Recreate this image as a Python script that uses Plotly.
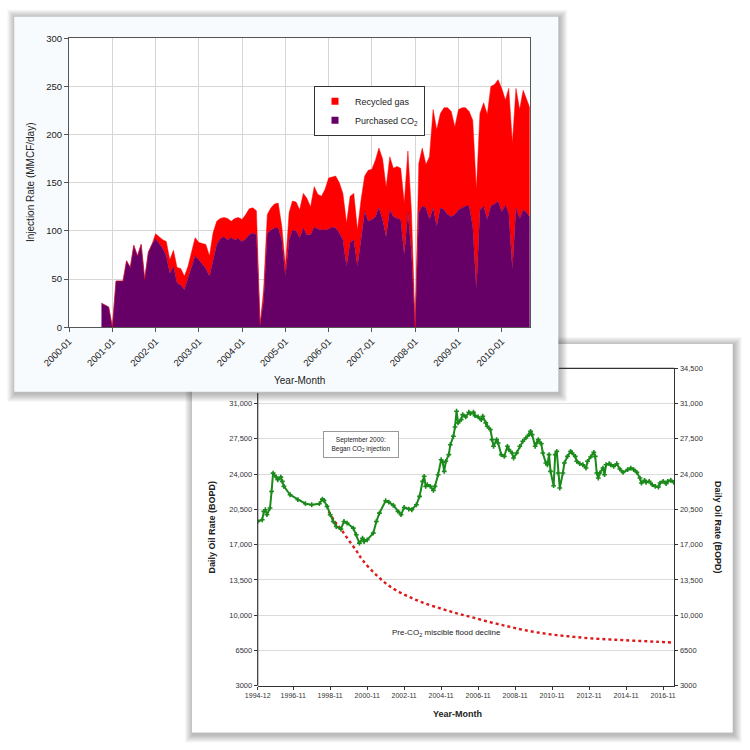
import plotly.graph_objects as go
import pandas as pd

W = H = 750
def px(x):
    return x / W
def py(y):
    return 1 - y / H

FONT = "Liberation Sans, Arial, Helvetica, sans-serif"

# ---------------- Top chart: monthly injection rates (MMCF/day), from 2000-10 ----------------
purchased_co2 = [25, 23, 21, 0, 48, 48, 48, 69, 62, 85, 74, 86, 50, 78, 86,
                 92, 87, 82, 74, 56, 63, 46, 44, 39, 51, 63, 74,
                 70, 65, 61, 53, 70, 86, 92, 94, 91, 93, 91, 92,
                 89, 92, 96, 98, 96, 2, 28, 98, 101, 103, 103, 91,
                 53, 91, 101, 100, 93, 103, 96, 96, 104, 102, 101, 101,
                 102, 104, 103, 98, 91, 63, 88, 91, 63, 94, 120, 110,
                 112, 115, 124, 112, 94, 122, 115, 113, 112, 75, 119, 77,
                 0, 119, 126, 124, 112, 124, 105, 124, 122, 117, 115, 117,
                 122, 124, 126, 126, 105, 39, 122, 126, 112, 126, 128, 131,
                 120, 127, 119, 60, 124, 113, 122, 119, 113]
recycled_gas = [0, 0, 0, 0, 0, 0, 0, 0, 0, 0, 0, 0, 0, 0, 0,
                5, 7, 9, 15, 14, 17, 16, 17, 14, 12, 17, 19,
                18, 22, 25, 21, 28, 24, 21, 20, 22, 17, 22, 22,
                23, 25, 27, 26, 25, 1, 11, 19, 23, 25, 26, 14,
                10, 28, 30, 30, 29, 36, 38, 29, 42, 36, 35, 42,
                53, 52, 54, 52, 48, 45, 48, 48, 38, 38, 37, 53,
                52, 59, 62, 63, 51, 55, 50, 54, 53, 54, 64, 42,
                0, 51, 60, 45, 65, 102, 100, 98, 106, 111, 109, 91,
                104, 104, 102, 98, 110, 104, 100, 107, 109, 124, 124, 126,
                128, 109, 129, 131, 124, 113, 124, 117, 113]
inj_dates = pd.date_range("2000-10-01", periods=len(purchased_co2), freq="MS")
inj_tickvals = [f"{y}-01-01" for y in range(2000, 2011)]
inj_ticktext = [f"{y}-01" for y in range(2000, 2011)]

# ---------------- Bottom chart: daily oil rate (BOPD) ----------------
oil_dates = ["1994-12", "1995-03", "1995-04", "1995-05", "1995-06", "1995-08", "1995-09", "1995-10",
             "1995-12", "1996-01", "1996-03", "1996-04", "1996-05", "1996-09", "1997-02", "1997-07",
             "1997-11", "1998-04", "1998-06", "1998-07", "1998-09", "1998-11", "1999-01", "1999-03",
             "1999-06", "1999-08", "1999-10", "2000-02", "2000-04", "2000-06", "2000-08", "2000-09",
             "2000-11", "2001-03", "2001-05", "2001-07", "2001-11", "2002-01", "2002-04", "2002-07",
             "2002-09", "2002-11", "2003-02", "2003-04", "2003-07", "2003-09", "2003-11", "2003-12",
             "2004-01", "2004-02", "2004-04", "2004-06", "2004-07", "2004-09", "2004-11", "2004-12",
             "2005-01", "2005-02", "2005-04", "2005-05", "2005-07", "2005-08", "2005-09", "2005-10",
             "2005-12", "2006-01", "2006-03", "2006-05", "2006-06", "2006-08", "2006-09", "2006-11",
             "2007-01", "2007-02", "2007-04", "2007-05", "2007-07", "2007-08", "2007-09", "2007-11",
             "2007-12", "2008-02", "2008-04", "2008-06", "2008-07", "2008-09", "2008-10", "2008-12",
             "2009-02", "2009-04", "2009-06", "2009-08", "2009-09", "2009-10", "2009-12", "2010-01",
             "2010-02", "2010-04", "2010-05", "2010-07", "2010-08", "2010-09", "2010-10", "2010-12",
             "2011-01", "2011-02", "2011-03", "2011-04", "2011-06", "2011-07", "2011-09", "2011-11",
             "2011-12", "2012-02", "2012-03", "2012-05", "2012-07", "2012-09", "2012-10", "2012-12",
             "2013-02", "2013-03", "2013-04", "2013-05", "2013-06", "2013-08", "2013-09", "2013-10",
             "2013-12", "2014-01", "2014-03", "2014-05", "2014-07", "2014-09", "2014-12", "2015-02",
             "2015-04", "2015-06", "2015-08", "2015-09", "2015-11", "2015-12", "2016-02", "2016-04",
             "2016-06", "2016-08", "2016-09", "2016-11", "2017-01", "2017-02", "2017-04", "2017-06"]
oil_rate = [19300, 19470, 20300, 20460, 19970, 20630, 22280, 24100,
            23710, 23440, 23700, 23280, 22780, 21950, 21460, 21060,
            20960, 21060, 21520, 21390, 20800, 19970, 19300, 18800,
            18540, 19300, 19140, 18640, 17980, 17150, 17640, 17310,
            17480, 18140, 19300, 20130, 21360, 21220, 20900, 20300,
            19970, 20690, 20530, 20460, 20960, 21790, 23280, 23780,
            22780, 22950, 22780, 22380, 22780, 23940, 25430, 25170,
            24270, 25270, 25930, 26920, 27750, 28680, 30240, 29080,
            29410, 29900, 29670, 30140, 30000, 30140, 29800, 29670,
            29410, 29740, 29080, 28750, 28420, 27420, 26760, 27420,
            27090, 25930, 25760, 26760, 26430, 26100, 25600, 26100,
            26760, 27260, 27590, 27920, 28250, 27920, 26760, 27090,
            27420, 27020, 26100, 25100, 24930, 25930, 24270, 22850,
            25930, 26260, 24110, 22620, 24110, 25100, 25760, 26260,
            26100, 25760, 25270, 25030, 24930, 24600, 25270, 25700,
            26160, 25760, 24110, 23610, 24110, 24600, 23940, 24930,
            25030, 24930, 24770, 25030, 24500, 24170, 24440, 24600,
            24440, 24170, 23610, 23110, 23380, 23180, 23280, 22950,
            22780, 22720, 23110, 23280, 23050, 23280, 23380, 23180]

decline_dates = ["1998-10", "1999-02", "1999-06", "1999-11", "2000-04", "2000-08", "2001-05",
                 "2002-02", "2003-01", "2003-12", "2004-12", "2005-10", "2006-08", "2007-07",
                 "2008-06", "2009-04", "2010-03", "2011-02", "2012-01", "2012-12", "2013-11",
                 "2014-09", "2015-08", "2016-07", "2017-06"]
decline_rate = [20300, 19300, 18540, 17450, 16400, 15470, 13980,
                12820, 11900, 11200, 10600, 10150, 9750, 9300,
                8900, 8550, 8250, 8020, 7850, 7700, 7600,
                7520, 7440, 7360, 7280]

oil_tickvals = ["1994-12-01", "1996-11-01", "1998-11-01", "2000-11-01", "2002-11-01", "2004-11-01",
                "2006-11-01", "2008-11-01", "2010-11-01", "2012-11-01", "2014-11-01", "2016-11-01"]
oil_ticktext = ["1994-12", "1996-11", "1998-11", "2000-11", "2002-11", "2004-11",
                "2006-11", "2008-11", "2010-11", "2012-11", "2014-11", "2016-11"]
rate_tickvals = [3000, 6500, 10000, 13500, 17000, 20500, 24000, 27500, 31000, 34500]
rate_ticktext = ["3000", "6500", "10,000", "13,500", "17,000", "20,500", "24,000", "27,500", "31,000", "34,500"]

# ---------------- Figure ----------------
fig = go.Figure()

fig.add_trace(go.Scatter(x=decline_dates, y=decline_rate, mode="lines",
                         line=dict(color="#dd1a1a", width=2.4, dash="dot", shape="spline"),
                         xaxis="x", yaxis="y", showlegend=False, hoverinfo="skip"))
fig.add_trace(go.Scatter(x=oil_dates, y=oil_rate, mode="lines+markers",
                         line=dict(color="#1a8a1a", width=2),
                         marker=dict(symbol="cross", size=4, color="#1a8a1a"),
                         xaxis="x", yaxis="y", showlegend=False))
# empty trace so the right-hand (secondary) axis of the bottom chart is drawn
fig.add_trace(go.Scatter(x=[None], y=[None], mode="markers", xaxis="x", yaxis="y3",
                         showlegend=False, hoverinfo="skip"))

fig.add_trace(go.Scatter(x=inj_dates, y=purchased_co2, stackgroup="inj", mode="lines",
                         line=dict(width=0.5, color="#660066"), fillcolor="#660066",
                         xaxis="x2", yaxis="y2", showlegend=False))
fig.add_trace(go.Scatter(x=inj_dates, y=recycled_gas, stackgroup="inj", mode="lines",
                         line=dict(width=0.5, color="#ff0000"), fillcolor="#ff0000",
                         xaxis="x2", yaxis="y2", showlegend=False))
# legend entries (square swatches)
fig.add_trace(go.Scatter(x=[None], y=[None], mode="markers", name="Recycled gas",
                         marker=dict(symbol="square", size=7, color="#ff0000"),
                         xaxis="x2", yaxis="y2"))
fig.add_trace(go.Scatter(x=[None], y=[None], mode="markers", name="Purchased CO<sub>2</sub>",
                         marker=dict(symbol="square", size=7, color="#660066"),
                         xaxis="x2", yaxis="y2"))

# ---- panels (backgrounds + soft shadows) ----
shapes = []
def panel(x0, y0, x1, y1, fill):
    for k in range(8, 0, -1):
        shapes.append(dict(type="rect", xref="paper", yref="paper", layer="below",
                           x0=px(x0 - k + 1), x1=px(x1 + k + 1), y0=py(y1 + k + 2), y1=py(y0 - k + 1),
                           line=dict(width=0), fillcolor="rgba(0,0,0,0.035)"))
    shapes.append(dict(type="rect", xref="paper", yref="paper", layer="below",
                       x0=px(x0), x1=px(x1), y0=py(y1), y1=py(y0),
                       line=dict(width=0), fillcolor=fill))

panel(192, 344, 732.7, 732.5, "#ffffff")
panel(14.3, 16.7, 558.3, 391.7, "#f8fbfd")
# white plot area for the top chart
shapes.append(dict(type="rect", xref="paper", yref="paper", layer="below",
                   x0=px(69), x1=px(529.7), y0=py(327.3), y1=py(38.3),
                   line=dict(width=0), fillcolor="#ffffff"))
# bottom chart: visible part of left axis line and top border
shapes.append(dict(type="line", xref="paper", yref="paper", layer="above",
                   x0=px(257.7), x1=px(257.7), y0=py(685.7), y1=py(393),
                   line=dict(color="#333333", width=1.2)))
shapes.append(dict(type="line", xref="paper", yref="paper", layer="above",
                   x0=px(559), x1=px(674.3), y0=py(368.3), y1=py(368.3),
                   line=dict(color="#333333", width=1.2)))

annotations = [
    dict(text="Injection Rate (MMCF/day)", x=px(30), y=py(183), textangle=-90,
         font=dict(size=10, color="#222")),
    dict(text="Year-Month", x=px(299), y=py(380), font=dict(size=10, color="#222")),
    dict(text="<b>Daily Oil Rate (BOPD)</b>", x=px(211.5), y=py(527), textangle=-90,
         font=dict(size=9, color="#222")),
    dict(text="<b>Daily Oil Rate (BOPD)</b>", x=px(718), y=py(527), textangle=90,
         font=dict(size=9, color="#222")),
    dict(text="<b>Year-Month</b>", x=px(457.5), y=py(714.3), font=dict(size=9, color="#222")),
    dict(text="September 2000:<br>Began CO<sub>2</sub> injection", x=px(361), y=py(444.7),
         font=dict(size=6.5, color="#222"), bordercolor="#999999", borderwidth=1, borderpad=2,
         bgcolor="#ffffff", width=70, height=21),
    dict(text="Pre-CO<sub>2</sub> miscible flood decline", x=px(446), y=py(633.3),
         font=dict(size=8, color="#222")),
]
for a in annotations:
    a.update(xref="paper", yref="paper", showarrow=False, xanchor="center", yanchor="middle")

fig.update_layout(
    width=W, height=H, margin=dict(l=0, r=0, t=0, b=0, pad=0, autoexpand=False),
    paper_bgcolor="#ffffff", plot_bgcolor="#ffffff",
    font=dict(family=FONT, color="#222"),
    shapes=shapes, annotations=annotations,
    showlegend=True,
    legend=dict(x=px(314), y=py(85.7), xanchor="left", yanchor="top", traceorder="normal",
                bgcolor="#ffffff", bordercolor="#333333", borderwidth=1,
                font=dict(size=9, family=FONT), itemwidth=30, tracegroupgap=0),
    xaxis=dict(domain=[px(257.7), px(674.3)], anchor="y", type="date", automargin=False,
               range=["1994-12-01", "2017-06-10"], tickvals=oil_tickvals, ticktext=oil_ticktext,
               showgrid=False, zeroline=False, showline=True, linecolor="#333333", linewidth=1.2,
               ticks="outside", ticklen=3, tickcolor="#333333", tickfont=dict(size=7, color="#333")),
    yaxis=dict(domain=[py(685.7), py(368.3)], anchor="x", range=[3000, 34500], automargin=False,
               tickvals=rate_tickvals[:-1], ticktext=rate_ticktext[:-1],
               showgrid=True, gridcolor="#dcdcdc", gridwidth=1, zeroline=False, showline=False,
               ticks="outside", ticklen=3, tickcolor="#333333", tickfont=dict(size=7.5, color="#333")),
    yaxis3=dict(overlaying="y", side="right", anchor="x", range=[3000, 34500], automargin=False,
                tickvals=rate_tickvals, ticktext=rate_ticktext,
                showgrid=False, zeroline=False, showline=True, linecolor="#333333", linewidth=1.2,
                ticks="outside", ticklen=3, tickcolor="#333333", tickfont=dict(size=7.5, color="#333")),
    xaxis2=dict(domain=[px(69), px(529.7)], anchor="y2", type="date", automargin=False,
                range=["2000-01-01", "2010-08-25"], tickvals=inj_tickvals, ticktext=inj_ticktext,
                tickangle=-45, showgrid=True, gridcolor="#d6d6d6", zeroline=False,
                showline=True, mirror=True, linecolor="#555555", linewidth=1,
                ticks="outside", ticklen=4, tickcolor="#555555", tickfont=dict(size=9.5, color="#222")),
    yaxis2=dict(domain=[py(327.3), py(38.3)], anchor="x2", range=[0, 300], dtick=50, automargin=False,
                showgrid=True, gridcolor="#d6d6d6", zeroline=False,
                showline=True, mirror=True, linecolor="#555555", linewidth=1,
                ticks="outside", ticklen=4, tickcolor="#555555", tickfont=dict(size=9.5, color="#222")),
)

fig.write_html("out.html", config={"displayModeBar": False},
               post_script="document.body.style.margin='0';document.body.style.overflow='hidden';")
